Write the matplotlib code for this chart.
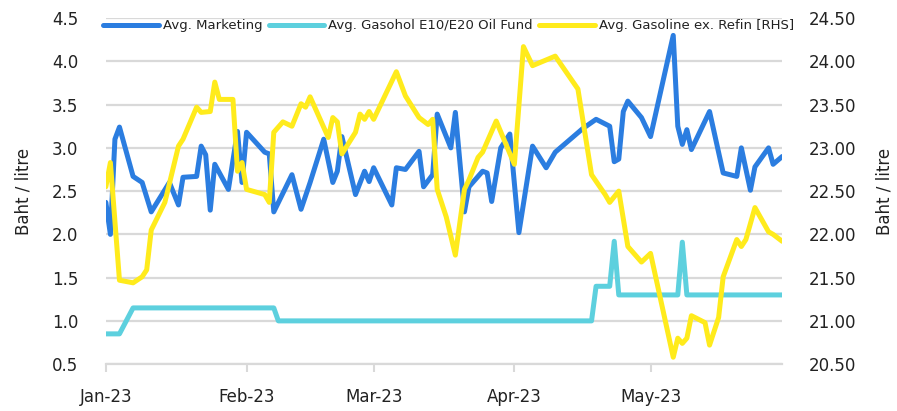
import matplotlib
matplotlib.use("Agg")
import matplotlib.pyplot as plt
import matplotlib.dates as mdates
import pandas as pd
import numpy as np

# Avg. Marketing margin (LHS)
mkt_dates = ["2023-01-01", "2023-01-02", "2023-01-03", "2023-01-04", "2023-01-07", "2023-01-09",
             "2023-01-11", "2023-01-15", "2023-01-17", "2023-01-18", "2023-01-21", "2023-01-22",
             "2023-01-23", "2023-01-24", "2023-01-25", "2023-01-28", "2023-01-30", "2023-01-31",
             "2023-02-01", "2023-02-05", "2023-02-06", "2023-02-07", "2023-02-11", "2023-02-13",
             "2023-02-15", "2023-02-18", "2023-02-20", "2023-02-21", "2023-02-22", "2023-02-25",
             "2023-02-27", "2023-02-28", "2023-03-01", "2023-03-05", "2023-03-06", "2023-03-08",
             "2023-03-11", "2023-03-12", "2023-03-14", "2023-03-15", "2023-03-18", "2023-03-19",
             "2023-03-21", "2023-03-22", "2023-03-25", "2023-03-26", "2023-03-27", "2023-03-29",
             "2023-03-31", "2023-04-02", "2023-04-05", "2023-04-08", "2023-04-10", "2023-04-16",
             "2023-04-19", "2023-04-22", "2023-04-23", "2023-04-24", "2023-04-25", "2023-04-26",
             "2023-04-29", "2023-05-01", "2023-05-06", "2023-05-07", "2023-05-08", "2023-05-09",
             "2023-05-10", "2023-05-14", "2023-05-17", "2023-05-20", "2023-05-21", "2023-05-23",
             "2023-05-24", "2023-05-27", "2023-05-28", "2023-05-30"]
mkt_vals = [2.37, 2.0, 3.1, 3.24, 2.67, 2.6, 2.26, 2.6, 2.34, 2.66, 2.67, 3.02, 2.92, 2.28, 2.81, 2.52,
            3.19, 2.6,
            3.18, 2.95, 2.93, 2.26, 2.69, 2.29, 2.6, 3.1, 2.6, 2.73, 3.13, 2.46, 2.73, 2.61,
            2.77, 2.34, 2.77, 2.75, 2.96, 2.55, 2.69, 3.39, 3.0, 3.41, 2.26, 2.55, 2.73, 2.71,
            2.38, 3.0, 3.16,
            2.02, 3.02, 2.77, 2.95, 3.22, 3.33, 3.25, 2.84, 2.87, 3.42, 3.54, 3.35,
            3.13, 4.3, 3.25, 3.04, 3.21, 2.98, 3.42, 2.71, 2.67, 3.0, 2.51, 2.78, 3.0, 2.81, 2.9]

# Avg. Gasohol E10/E20 Oil Fund (LHS)
fund_dates = ["2023-01-01", "2023-01-04", "2023-01-07", "2023-02-07", "2023-02-08", "2023-04-18",
              "2023-04-19", "2023-04-22", "2023-04-23", "2023-04-24", "2023-05-07", "2023-05-08",
              "2023-05-09", "2023-05-30"]
fund_vals = [0.85, 0.85, 1.15, 1.15, 1.0, 1.0, 1.4, 1.4, 1.92, 1.3, 1.3, 1.91, 1.3, 1.3]

# Avg. Gasoline ex. Refin (RHS)
gas_dates = ["2023-01-01", "2023-01-02", "2023-01-04", "2023-01-07", "2023-01-09", "2023-01-10",
             "2023-01-11", "2023-01-14", "2023-01-17", "2023-01-18", "2023-01-21", "2023-01-22",
             "2023-01-24", "2023-01-25", "2023-01-26", "2023-01-29", "2023-01-30", "2023-01-31",
             "2023-02-01", "2023-02-05", "2023-02-06", "2023-02-07", "2023-02-09", "2023-02-11",
             "2023-02-13", "2023-02-14", "2023-02-15", "2023-02-19", "2023-02-20", "2023-02-21",
             "2023-02-22", "2023-02-25", "2023-02-26", "2023-02-27", "2023-02-28", "2023-03-01",
             "2023-03-06", "2023-03-08", "2023-03-11", "2023-03-13", "2023-03-14", "2023-03-15",
             "2023-03-17", "2023-03-19", "2023-03-21", "2023-03-22", "2023-03-24", "2023-03-25",
             "2023-03-28", "2023-04-01", "2023-04-03", "2023-04-05", "2023-04-10", "2023-04-15",
             "2023-04-18", "2023-04-21", "2023-04-22", "2023-04-24", "2023-04-26", "2023-04-29",
             "2023-05-01", "2023-05-06", "2023-05-07", "2023-05-08", "2023-05-09", "2023-05-10",
             "2023-05-13", "2023-05-14", "2023-05-16", "2023-05-17", "2023-05-20", "2023-05-21",
             "2023-05-22", "2023-05-24", "2023-05-27", "2023-05-28", "2023-05-30"]
gas_vals = [22.55, 22.83, 21.47, 21.44, 21.51, 21.59, 22.05, 22.37, 23.02, 23.10, 23.47, 23.41,
            23.42, 23.76, 23.56, 23.56, 22.73, 22.83,
            22.52, 22.46, 22.37, 23.18, 23.30, 23.25, 23.51, 23.47, 23.59, 23.12, 23.35, 23.30,
            22.93, 23.18, 23.39, 23.33, 23.42,
            23.33, 23.88, 23.60, 23.35, 23.27, 23.33, 22.52, 22.20, 21.76, 22.52, 22.63, 22.89,
            22.95, 23.31,
            22.81, 24.17, 23.95, 24.06, 23.68, 22.69, 22.46, 22.37, 22.50, 21.86, 21.68,
            21.78, 20.58, 20.80, 20.74, 20.80, 21.06, 20.98, 20.72, 21.04, 21.51, 21.94, 21.86,
            21.94, 22.31, 22.03, 22.00, 21.92]

left_ticks = [0.5, 1.0, 1.5, 2.0, 2.5, 3.0, 3.5, 4.0, 4.5]
right_ticks = [20.5, 21.0, 21.5, 22.0, 22.5, 23.0, 23.5, 24.0, 24.5]

blue = "#2B7DE0"
cyan = "#5DD0DE"
yellow = "#FFEB1C"
grid_c = "#D9D9D9"
txt_c = "#222222"

fig = plt.figure(figsize=(8.97, 4.11), dpi=100)
ax = fig.add_axes([0.118, 0.114, 0.754, 0.842])
ax2 = ax.twinx()

l1, = ax.plot(pd.to_datetime(mkt_dates), mkt_vals, color=blue, lw=3.6,
              solid_joinstyle="round", solid_capstyle="round", label="Avg. Marketing")
l2, = ax.plot(pd.to_datetime(fund_dates), fund_vals, color=cyan, lw=3.6,
              solid_joinstyle="round", solid_capstyle="round", label="Avg. Gasohol E10/E20 Oil Fund")
l3, = ax2.plot(pd.to_datetime(gas_dates), gas_vals, color=yellow, lw=3.6,
               solid_joinstyle="round", solid_capstyle="round", label="Avg. Gasoline ex. Refin [RHS]")

ax.set_ylim(0.5, 4.5)
ax2.set_ylim(20.5, 24.5)
ax.set_xlim(pd.Timestamp("2023-01-01"), pd.Timestamp("2023-05-30"))

ax.set_yticks(left_ticks)
ax.set_yticklabels([f"{v:.1f}" for v in left_ticks])
ax2.set_yticks(right_ticks)
ax2.set_yticklabels([f"{v:.2f}" for v in right_ticks])

ax.yaxis.grid(True, color=grid_c, lw=1.6)
ax.set_axisbelow(True)

ax.xaxis.set_major_locator(mdates.MonthLocator())
ax.xaxis.set_major_formatter(mdates.DateFormatter("%b-%y"))

for a in (ax, ax2):
    for s in a.spines.values():
        s.set_visible(False)
ax.spines["bottom"].set_visible(True)
ax.spines["bottom"].set_color(grid_c)
ax.spines["bottom"].set_linewidth(1.6)

ax.tick_params(axis="y", length=0, pad=20, labelsize=12, labelcolor=txt_c)
ax2.tick_params(axis="y", length=0, pad=19, labelsize=12, labelcolor=txt_c)
ax.tick_params(axis="x", length=6, width=1.5, color=grid_c, pad=11, labelsize=12, labelcolor=txt_c)

ax.set_ylabel("Baht / litre", fontsize=12, color=txt_c, labelpad=14)
ax2.set_ylabel("Baht / litre", fontsize=12, color=txt_c, labelpad=14)

fig.legend(handles=[l1, l2, l3], loc="center", bbox_to_anchor=(0.5, 0.937),
           ncol=3, frameon=False, fontsize=9.5, handlelength=4.2, handletextpad=0.3,
           columnspacing=0.5, labelcolor=txt_c)

fig.savefig("out.png", dpi=100)
